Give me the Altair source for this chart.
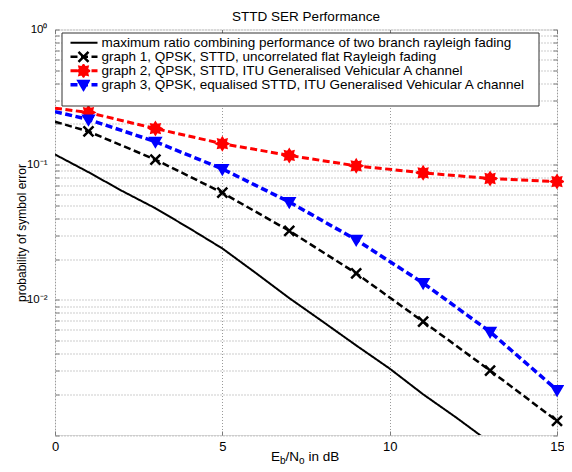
import math
import altair as alt
import pandas as pd

FONT = "Liberation Sans"

# ---------------- data ----------------
series_names = [
    "maximum ratio combining performance of two branch rayleigh fading",
    "graph 1, QPSK, STTD, uncorrelated flat Rayleigh fading",
    "graph 2, QPSK, STTD, ITU Generalised Vehicular A channel",
    "graph 3, QPSK, equalised STTD, ITU Generalised Vehicular A channel",
]
marker_keys = ["none", "cross", "star", "triangle"]

mrc_x = [0, 1, 2, 3, 4, 5, 6, 7, 8, 9, 10, 11, 12, 13]
mrc_y = [0.119, 0.088, 0.064, 0.0476, 0.034, 0.024, 0.0158, 0.0103,
         0.0069, 0.0046, 0.0031, 0.0020, 0.00134, 0.00088]

sim_x = [0, 1, 3, 5, 7, 9, 11, 13, 15]
g1_y = [0.208, 0.176, 0.109, 0.062, 0.0324, 0.0157, 0.0069, 0.0030, 0.00127]
g2_y = [0.262, 0.243, 0.185, 0.143, 0.117, 0.098, 0.087, 0.079, 0.075]
g3_y = [0.247, 0.216, 0.148, 0.093, 0.053, 0.0278, 0.0133, 0.0058, 0.00215]

x_tick_values = [0, 5, 10, 15]
y_tick_values = [0.001, 0.002, 0.003, 0.004, 0.005, 0.006, 0.007, 0.008, 0.009,
                 0.01, 0.02, 0.03, 0.04, 0.05, 0.06, 0.07, 0.08, 0.09,
                 0.1, 0.2, 0.3, 0.4, 0.5, 0.6, 0.7, 0.8, 0.9, 1]
y_tick_labels = {1: "10⁰", 0.1: "10⁻¹", 0.01: "10⁻²"}

# ---------------- tables ----------------
rows = []
for xv, yv in zip(mrc_x, mrc_y):
    rows.append({"x": xv, "y": yv, "series": series_names[0]})
for name, ys in zip(series_names[1:], [g1_y, g2_y, g3_y]):
    for xv, yv in zip(sim_x, ys):
        rows.append({"x": xv, "y": yv, "series": name})
line_df = pd.DataFrame(rows)

prow = []
for key, ys in zip(marker_keys[1:], [g1_y, g2_y, g3_y]):
    for xv, yv in zip(sim_x[1:], ys[1:]):
        prow.append({"x": xv, "y": yv, "key": key})
point_df = pd.DataFrame(prow)

label_expr = " : ".join(
    f"datum.value === {v} ? '{t}'" for v, t in y_tick_labels.items()
) + " : ''"

# ---------------- scales / axes ----------------
xscale = alt.Scale(domain=[0, 15], nice=False, zero=False)
yscale = alt.Scale(type="log", domain=[0.001, 1], nice=False)

GRID = dict(grid=True, gridDash=[1, 2], gridColor="#9a9a9a", gridWidth=1, gridOpacity=1)
TICK = dict(ticks=True, tickSize=4, tickColor="#7a7a7a", tickWidth=1, offset=-4)

xaxis = alt.Axis(values=x_tick_values, domain=False, labelFontSize=13,
                 labelPadding=5, labelFont=FONT, labelColor="black", labelFlush=False,
                 title=None, format="d", **GRID, **TICK)
yaxis = alt.Axis(values=y_tick_values, labelExpr=label_expr, domain=False,
                 labelFontSize=11.5, labelPadding=8, labelFont=FONT, labelColor="black",
                 labelOverlap=False, labelFlush=False,
                 title="probability of symbol error", titleFont=FONT, titleFontSize=12,
                 titleFontWeight="normal", titleColor="black", titleAngle=270,
                 titleX=-38, titleY=203, titleAlign="center", titleBaseline="middle",
                 **GRID, **TICK)
xaxis_top = alt.Axis(orient="top", values=x_tick_values, domain=False, labels=False,
                     grid=False, title=None, **TICK)
yaxis_right = alt.Axis(orient="right", values=y_tick_values, domain=False, labels=False,
                       grid=False, title=None, **TICK)

ROWPAD = -2.0
LX, LY = 7, 3.5
line_legend = alt.Legend(
    orient="none", legendX=LX, legendY=LY, title=None, padding=3,
    symbolType="stroke", symbolSize=729, symbolStrokeWidth=3, symbolOffset=3.5,
    labelOffset=2, labelFontSize=13.5, labelFont=FONT, labelColor="black",
    labelLimit=1000, clipHeight=13.67, rowPadding=ROWPAD,
    strokeColor="transparent", fillColor="transparent", direction="vertical",
)
point_legend = alt.Legend(
    orient="none", legendX=LX, legendY=LY, title=None, padding=3,
    symbolSize=100, symbolStrokeWidth=2.5, symbolOffset=11.75,
    labelFontSize=13.5, labelFont=FONT, labelOpacity=0, labelExpr="' '",
    labelOffset=0, clipHeight=13.67, rowPadding=ROWPAD, direction="vertical",
    symbolOpacity=1,
)

lines = alt.Chart(line_df).mark_line(clip=True, strokeCap="butt").encode(
    x=alt.X("x:Q", scale=xscale, axis=xaxis),
    y=alt.Y("y:Q", scale=yscale, axis=yaxis),
    color=alt.Color("series:N", scale=alt.Scale(domain=series_names,
                    range=["#000000", "#000000", "#ff0000", "#0000ff"]), legend=line_legend),
    strokeDash=alt.StrokeDash("series:N", scale=alt.Scale(domain=series_names,
                    range=[[1, 0], [7, 3.5], [7, 3.5], [7, 3.5]]), legend=line_legend),
    strokeWidth=alt.StrokeWidth("series:N", scale=alt.Scale(domain=series_names,
                    range=[2, 3.5, 3.8, 3.5]), legend=None),
    order="x:Q",
)

# marker shapes (unit-size symbol paths)
cross_path = "M-1,-1L1,1M-1,1L1,-1"
star_pts = []
for k in range(16):
    r = 1.12 if k % 2 == 0 else 0.72
    a = math.radians(22.5 * k)
    star_pts.append(f"{r * math.cos(a):.3f},{r * math.sin(a):.3f}")
star_path = "M" + "L".join(star_pts) + "Z"
tri_path = "M-1,-0.75L1,-0.75L0,0.95Z"

points = alt.Chart(point_df).mark_point(filled=True, opacity=1, size=100,
                                        strokeWidth=2.5).encode(
    x=alt.X("x:Q", scale=xscale, axis=xaxis_top),
    y=alt.Y("y:Q", scale=yscale, axis=yaxis_right),
    shape=alt.Shape("key:N", scale=alt.Scale(domain=marker_keys,
                    range=["circle", cross_path, star_path, tri_path]), legend=point_legend),
    fill=alt.Fill("key:N", scale=alt.Scale(domain=marker_keys,
                    range=["transparent", "transparent", "#ff0000", "#0000ff"]), legend=point_legend),
    stroke=alt.Stroke("key:N", scale=alt.Scale(domain=marker_keys,
                    range=["transparent", "#000000", "#ff0000", "#0000ff"]), legend=point_legend),
)

one = pd.DataFrame({"k": [0]})

# legend frame (white box behind the legend entries)
legend_box = alt.Chart(one).mark_rect(fill="white", stroke="#333333", strokeWidth=1).encode(
    x=alt.value(7), x2=alt.value(484), y=alt.value(3.5), y2=alt.value(76.5))

TY = 427


def piece(text, x, y, size):
    return alt.Chart(one).mark_text(align="left", baseline="middle", font=FONT,
                                    fontSize=size, color="black").encode(
        x=alt.value(x), y=alt.value(y), text=alt.value(text))


xtitle = [
    piece("E", 216, TY, 13.5),
    piece("b", 225.0, TY + 4, 10),
    piece("/N", 230.6, TY, 13.5),
    piece("o", 244.1, TY + 4, 10),
    piece("in dB", 253.4, TY, 13.5),
]

chart = alt.layer(lines, points, legend_box, *xtitle).resolve_axis(
    x="independent", y="independent"
).properties(
    width=502, height=405.5,
    padding={"left": 47, "top": 21.5, "right": 7, "bottom": 29},
    autosize=alt.AutoSizeParams(type="none"),
    title=alt.TitleParams("STTD SER Performance", font=FONT, fontSize=13.5,
                          fontWeight="normal", color="black", anchor="middle", offset=0),
).configure_view(stroke="#7a7a7a", strokeWidth=1).configure(background="white")

chart.save("out.html", embed_options={"renderer": "svg", "actions": False})
